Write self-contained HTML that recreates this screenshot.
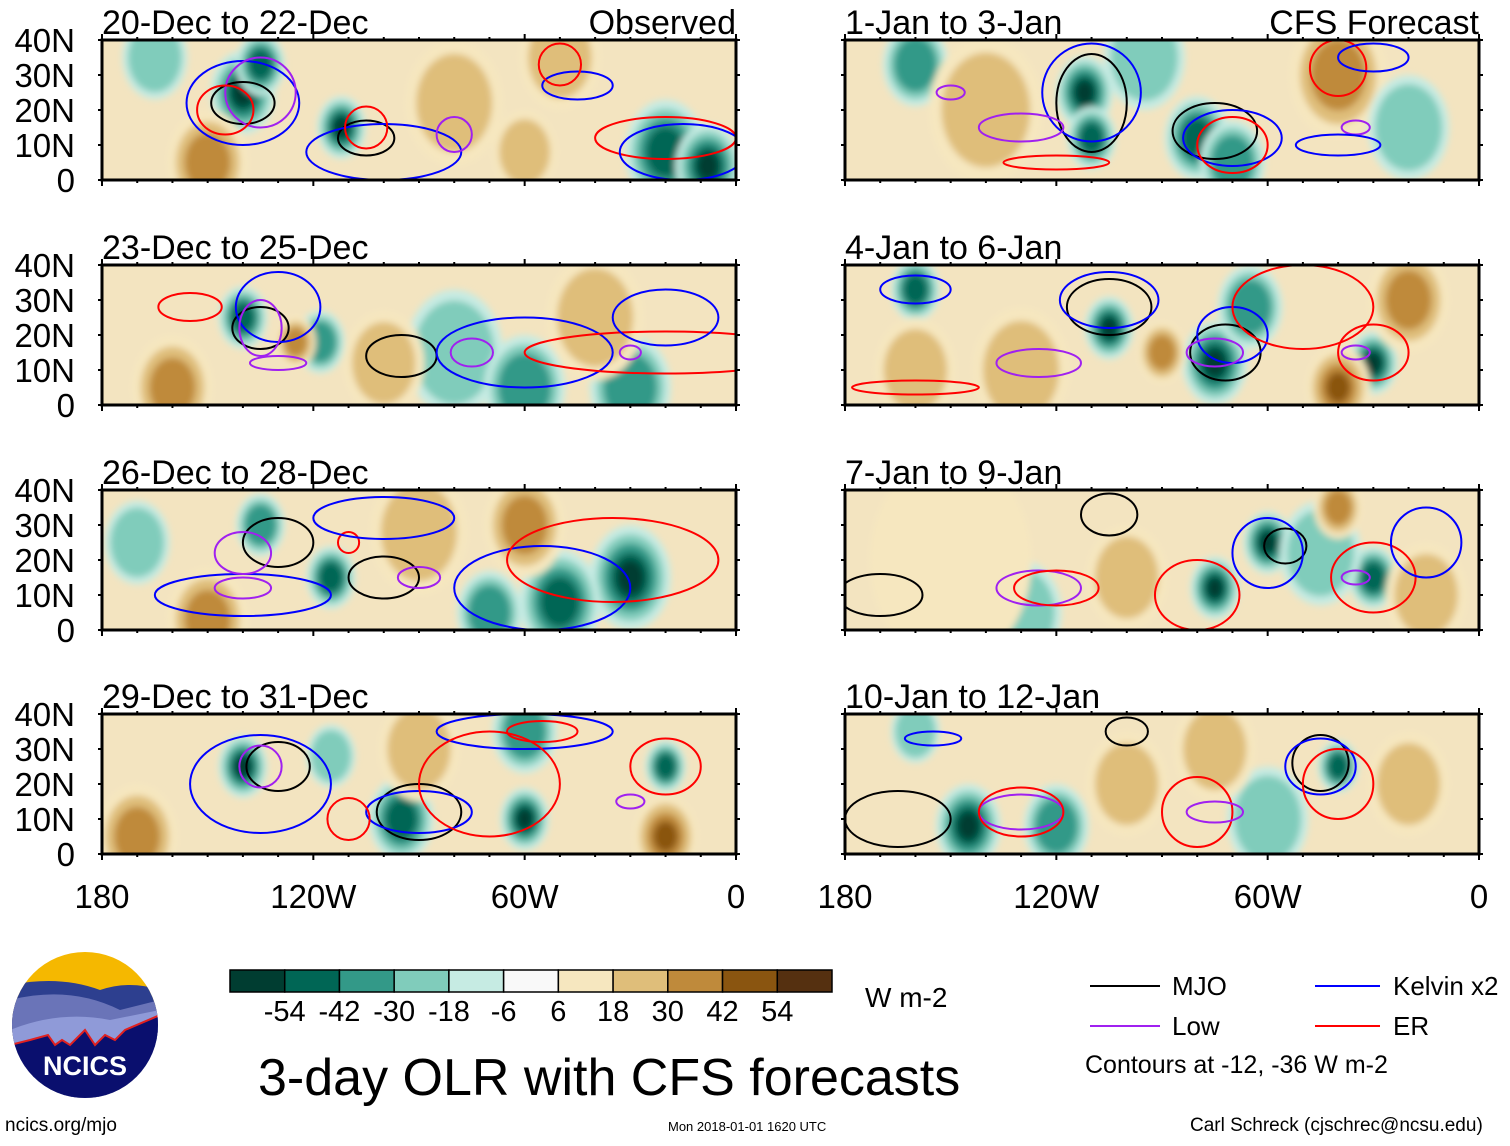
<!DOCTYPE html>
<html><head><meta charset="utf-8"><style>
body{margin:0;background:#fff;}
svg{font-family:"Liberation Sans",sans-serif;}
</style></head><body>
<svg id="chart" width="1510" height="1141" viewBox="0 0 1510 1141" xmlns="http://www.w3.org/2000/svg">
<defs>
<filter id="blur" x="-50%" y="-50%" width="200%" height="200%"><feGaussianBlur stdDeviation="3.5"/></filter>
</defs>
<g id="panels"></g>
<g id="colorbar"></g>
<text x="865" y="1007" font-size="28">W m-2</text>
<text x="258" y="1095" font-size="52">3-day OLR with CFS forecasts</text>
<g font-size="26">
<line x1="1090" y1="986" x2="1160" y2="986" stroke="#000" stroke-width="2"/><text x="1172" y="995">MJO</text>
<line x1="1090" y1="1026" x2="1160" y2="1026" stroke="#a020f0" stroke-width="2"/><text x="1172" y="1035">Low</text>
<line x1="1315" y1="986" x2="1380" y2="986" stroke="#0000ff" stroke-width="2"/><text x="1393" y="995">Kelvin x2</text>
<line x1="1315" y1="1026" x2="1380" y2="1026" stroke="#ff0000" stroke-width="2"/><text x="1393" y="1035">ER</text>
<text x="1085" y="1073" font-size="25">Contours at -12, -36 W m-2</text>
</g>
<g>
<clipPath id="lc"><circle cx="85" cy="1025" r="73"/></clipPath>
<g clip-path="url(#lc)">
<rect x="10" y="950" width="150" height="150" fill="#f5b800"/>
<path d="M10 985 Q60 975 100 990 Q130 980 160 990 L160 1100 L10 1100Z" fill="#2d3f8f"/>
<path d="M10 1000 Q70 985 120 1010 L160 1000 L160 1100 L10 1100Z" fill="#6a74b8"/>
<path d="M10 1030 Q60 1010 110 1020 L160 1010 L160 1100 L10 1100Z" fill="#8f9ad8"/>
<path d="M10 1045 L30 1040 L48 1035 L55 1045 L62 1040 L70 1045 L85 1030 L95 1045 L105 1035 L115 1040 L125 1030 L160 1015 L160 1100 L10 1100Z" fill="#0a0f6e" stroke="#e02020" stroke-width="2"/>
</g>
<text x="85" y="1075" font-size="27" font-weight="bold" fill="#fff" text-anchor="middle">NCICS</text>
</g>
<text x="5" y="1131" font-size="19">ncics.org/mjo</text>
<text x="668" y="1131" font-size="13">Mon 2018-01-01 1620 UTC</text>
<text x="1190" y="1131" font-size="19">Carl Schreck (cjschrec@ncsu.edu)</text>
</svg>
<script>
const levels=[-54,-42,-30,-18,-6,6,18,30,42,54];
const colors=["#003d31","#006655","#339988","#80ccbb","#c6ebe3","#f9f9f9","#f6e7bf","#dfbe7a","#bf8a3b","#8a5510","#553010"];
const lonTicks=["180","120W","60W","0"];
const lonTickVals=[180,120,60,0];
const latTicks=["40N","30N","20N","10N","0"];
const latTickVals=[40,30,20,10,0];
const titles=["20-Dec to 22-Dec","1-Jan to 3-Jan","23-Dec to 25-Dec","4-Jan to 6-Jan","26-Dec to 28-Dec","7-Jan to 9-Jan","29-Dec to 31-Dec","10-Jan to 12-Jan"];
// blobs: [lonW, latN, value, radiusDeg]
const blobs=[
[[140,25,-55,8],[135,33,-45,6],[112,15,-55,6],[150,5,30,10],[80,22,25,12],[60,8,25,8],[20,8,-50,10],[8,4,-54,8],[50,35,20,10],[165,35,-18,8]],
[[112,25,-54,7],[110,12,-42,6],[80,12,-50,8],[70,5,-30,8],[160,33,-30,8],[140,20,18,14],[40,30,30,12],[20,15,-18,10],[95,35,-18,10]],
[[140,25,-45,6],[118,18,-40,6],[80,15,-18,12],[60,5,-30,10],[30,5,-30,10],[160,5,30,10],[100,12,18,10],[40,25,18,12],[125,18,30,5]],
[[105,22,-54,6],[75,12,-54,8],[65,28,-30,8],[30,12,-54,6],[160,33,-42,6],[130,10,18,12],[40,5,42,8],[90,15,30,6],[20,30,30,10],[160,10,18,10]],
[[115,15,-45,6],[135,30,-30,6],[30,15,-54,10],[50,8,-42,10],[70,5,-30,8],[60,30,30,10],[150,3,30,10],[170,25,-18,8],[90,28,18,12]],
[[60,25,-54,6],[75,12,-54,6],[30,15,-42,6],[45,22,-18,10],[130,5,-18,10],[40,35,30,6],[100,15,18,10],[150,20,6,20],[15,10,18,10]],
[[140,25,-54,6],[95,10,-42,8],[60,10,-54,6],[20,25,-42,5],[170,5,30,10],[20,5,42,8],[115,28,-18,6],[60,35,-30,8],[90,30,18,10]],
[[145,8,-54,8],[120,8,-30,8],[60,10,-18,10],[40,25,-42,5],[160,35,-18,6],[100,20,18,10],[20,20,18,10],[75,30,18,10]]
];
// contours: [type, lonW, latN, rxDeg, ryDeg]
const contours=[
[["k",140,22,9,6],["k",105,12,8,5],["b",140,22,16,12],["b",100,8,22,8],["p",135,25,10,10],["r",145,20,8,7],["r",105,15,6,6],["p",80,13,5,5],["b",45,27,10,4],["r",20,12,20,6],["r",50,33,6,6],["b",15,8,18,8]],
[["k",110,22,10,14],["k",75,14,12,8],["b",110,25,14,14],["b",70,12,14,8],["p",130,15,12,4],["p",150,25,4,2],["r",120,5,15,2],["r",70,10,10,8],["r",40,32,8,8],["p",35,15,4,2],["b",40,10,12,3],["b",30,35,10,4]],
[["k",135,22,8,6],["k",95,14,10,6],["b",130,28,12,10],["b",60,15,25,10],["p",135,22,6,8],["p",75,15,6,4],["r",155,28,9,4],["r",20,15,40,6],["b",20,25,15,8],["p",130,12,8,2],["p",30,15,3,2]],
[["k",105,28,12,8],["k",72,15,10,8],["b",105,30,14,8],["b",70,20,10,8],["p",125,12,12,4],["p",75,15,8,4],["r",160,5,18,2],["r",50,28,20,12],["r",30,15,10,8],["b",160,33,10,4],["p",35,15,4,2]],
[["k",130,25,10,7],["k",100,15,10,6],["b",55,12,25,12],["b",140,10,25,6],["p",140,22,8,6],["p",140,12,8,3],["r",110,25,3,3],["r",35,20,30,12],["b",100,32,20,6],["p",90,15,6,3]],
[["k",105,33,8,6],["k",55,24,6,5],["k",170,10,12,6],["b",60,22,10,10],["p",125,12,12,5],["r",120,12,12,5],["r",80,10,12,10],["r",30,15,12,10],["b",15,25,10,10],["p",35,15,4,2]],
[["k",130,25,9,7],["k",90,12,12,8],["b",135,20,20,14],["b",60,35,25,5],["b",90,12,15,6],["p",135,25,6,6],["r",110,10,6,6],["r",70,20,20,15],["r",20,25,10,8],["p",30,15,4,2],["r",55,35,10,3]],
[["k",165,10,15,8],["k",100,35,6,4],["k",45,26,8,8],["b",45,25,10,8],["b",155,33,8,2],["p",130,12,12,5],["r",130,12,12,7],["r",80,12,10,10],["r",40,20,10,10],["p",75,12,8,3]]
];
const NS="http://www.w3.org/2000/svg";
const lineCol={k:"#000",b:"#0000ff",p:"#a020f0",r:"#ff0000"};
const contourName={k:"mjo-contour",b:"kelvin-contour",p:"low-contour",r:"er-contour"};
const rowsY=[40,265,490,714], colsX=[102,845], PW=634, PH=140;
function colorFor(v){let i=0;while(i<levels.length&&v>levels[i])i++;return colors[i];}
function mk(t,a,p){const e=document.createElementNS(NS,t);for(const k in a)e.setAttribute(k,a[k]);p.appendChild(e);return e;}
const root=document.getElementById('panels');
for(let pi=0;pi<8;pi++){
  const x0=colsX[pi%2], y0=rowsY[Math.floor(pi/2)];
  const xs=l=>x0+(180-l)/180*PW, ys=l=>y0+(40-l)/40*PH;
  const g=mk('g',{},root);
  
  
  const cid='cp'+pi;
  const cp=mk('clipPath',{id:cid},g);mk('rect',{x:x0,y:y0,width:PW,height:PH},cp);
  const inner=mk('g',{'clip-path':'url(#'+cid+')'},g);
  mk('rect',{x:x0,y:y0,width:PW,height:PH,fill:"#f3e4c0"},inner);
  const bg=mk('g',{filter:'url(#blur)'},inner);
  blobs[pi].forEach(b=>{
    const [lon,lat,v,r]=b;
    const steps=v<0?[[1.15,-6],[0.95,-18],[0.75,-30],[0.55,-42],[0.38,-54]]:[[1.15,6],[0.9,18],[0.65,30],[0.42,42]];
    steps.forEach(s=>{ if(Math.abs(v)>=Math.abs(s[1])){
      const e=mk('ellipse',{cx:xs(lon),cy:ys(lat),rx:r*s[0]/180*PW,ry:r*s[0]*1.3/40*PH,fill:colorFor(s[1]+(v<0?-1:1))},bg);
      
      
    }});
  });
  contours[pi].forEach(c=>{
    const e=mk('ellipse',{cx:xs(c[1]),cy:ys(c[2]),rx:c[3]/180*PW,ry:c[4]/40*PH,fill:'none',stroke:lineCol[c[0]],'stroke-width':2},inner);
    
    
  });
  const fr=mk('rect',{x:x0,y:y0,width:PW,height:PH,fill:'none',stroke:'#000','stroke-width':3},g);
  
  
  for(let l=0;l<=180;l+=10){const big=l%60==0;
    mk('line',{x1:xs(l),y1:y0,x2:xs(l),y2:y0-(big?6:3),stroke:'#000','stroke-width':2},g);
    mk('line',{x1:xs(l),y1:y0+PH,x2:xs(l),y2:y0+PH+(big?6:3),stroke:'#000','stroke-width':2},g);}
  latTickVals.forEach(l=>{mk('line',{x1:x0-4,y1:ys(l),x2:x0,y2:ys(l),stroke:'#000','stroke-width':2},g);
    mk('line',{x1:x0+PW,y1:ys(l),x2:x0+PW+4,y2:ys(l),stroke:'#000','stroke-width':2},g);});
  const t=mk('text',{x:x0,y:y0-6,'font-size':34},g);t.textContent=titles[pi];
  
  
  if(pi<2){const t2=mk('text',{x:x0+PW,y:y0-6,'font-size':34,'text-anchor':'end'},g);t2.textContent=pi==0?"Observed":"CFS Forecast";
    
    }
  if(pi%2==0){latTicks.forEach((s,i)=>{const tt=mk('text',{x:x0-27,y:ys(latTickVals[i])+12,'font-size':33,'text-anchor':'end'},g);tt.textContent=s;
    
    });}
  if(pi>=6){lonTicks.forEach((s,i)=>{const tt=mk('text',{x:xs(lonTickVals[i]),y:y0+PH+54,'font-size':33,'text-anchor':'middle'},g);tt.textContent=s;
    
    });}
}
const cb=document.getElementById('colorbar');
const cbx=230,cbw=602,cby=970,cbh=22,bw=cbw/colors.length;
colors.forEach((c,i)=>{const r=mk('rect',{x:cbx+i*bw,y:cby,width:bw,height:cbh,fill:c,stroke:'#000','stroke-width':1.5},cb);
  
  });
levels.forEach((v,i)=>{const t=mk('text',{x:cbx+(i+1)*bw,y:1021,'font-size':29,'text-anchor':'middle'},cb);t.textContent=v;
  
  });
</script>
</body></html>
